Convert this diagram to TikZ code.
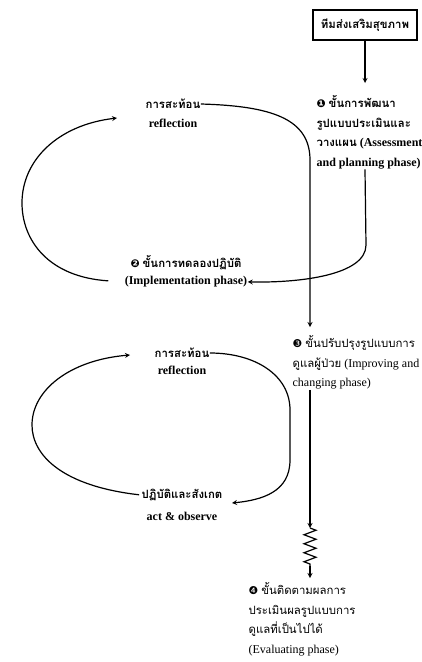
\documentclass[tikz,border=0pt]{standalone}
\usepackage{fontspec}
\setmainfont{Liberation Serif}
\newfontfamily\thaifont[Script=Thai,Scale=0.95]{Loma}
\newfontfamily\dingfont[Scale=0.9]{DejaVu Sans}
\usepackage{tikz}
\usetikzlibrary{positioning,arrows.meta,decorations.pathmorphing}

\newcommand{\tht}[1]{{\thaifont #1}}
\newcommand{\dnum}[1]{{\dingfont #1}}

\begin{document}
\begin{tikzpicture}[->,>=stealth,x=1pt,y=-1pt,line width=1.2pt,
                    phase/.style={align=left,inner sep=0pt,font=\bfseries\fontsize{12}{19.5}\selectfont},
                    light phase/.style={phase,font=\fontsize{12}{19.5}\selectfont},
                    cycle node/.style={inner sep=0pt,font=\bfseries\fontsize{12}{14}\selectfont},
                    team node/.style={draw,line width=1.5pt,minimum width=104pt,minimum height=30pt,
                    font=\bfseries\fontsize{12}{14}\selectfont}]

\useasboundingbox (0,0) rectangle (421,662);

\node[team node] (team) at (365,25) {\tht{ทีมส่งเสริมสุขภาพ}};

\node[phase,anchor=north west] (s1) at (316,95)
    {\dnum{❶} \tht{ขั้นการพัฒนา}\\ \tht{รูปแบบประเมินและ}\\ \tht{วางแผน} (Assessment\\ and planning phase)};

\node[cycle node] (r1) at (173,104) {\tht{การสะท้อน}};
\node[cycle node,below=9pt of r1] (r1e) {reflection};

\node[cycle node] (s2) at (186,263) {\dnum{❷} \tht{ขั้นการทดลองปฏิบัติ}};
\node[cycle node,below=5pt of s2] (s2e) {(Implementation phase)};

\node[light phase,anchor=north west] (s3) at (292,335)
    {\dnum{❸} \tht{ขั้นปรับปรุงรูปแบบการ}\\ \tht{ดูแลผู้ป่วย} (Improving and\\ changing phase)};

\node[cycle node] (r2) at (182,353) {\tht{การสะท้อน}};
\node[cycle node,below=7pt of r2] (r2e) {reflection};

\node[cycle node] (act) at (182,495) {\tht{ปฏิบัติและสังเกต}};
\node[cycle node,below=10pt of act] (acte) {act \& observe};

\node[light phase,anchor=north west] (s4) at (248,582)
    {\dnum{❹} \tht{ขั้นติดตามผลการ}\\ \tht{ประเมินผลรูปแบบการ}\\ \tht{ดูแลที่เป็นไปได้}\\ (Evaluating phase)};

% arrow ends
\coordinate (r1in) at (117,118);
\coordinate (s3in) at (310,327);
\coordinate (r2in) at (130,355);
\coordinate (actin) at (232,503);
\coordinate (z1) at (310,528);
\coordinate (z2) at (310,566);
\coordinate (s4in) at (310,578);

% first cycle
\draw[shorten >=12pt] (team) -- (team |- s1.north);
\draw (r1.east) .. controls (270,106) and (310,118) .. (310,160) -- (s3in);
\draw (team |- s1.south) -- (366,245) .. controls (366,275) and (300,283) .. (s2e.east);
\draw[shorten <=16pt] (s2e.west) .. controls (48,277) and (22,240) .. (22,203)
    .. controls (22,160) and (58,125) .. (r1in);

% second cycle
\draw (r2.east) .. controls (255,353) and (290,375) .. (290,410) -- (290,460)
    .. controls (290,492) and (262,500) .. (actin);
\draw[shorten <=2pt] (act.west) .. controls (62,486) and (32,455) .. (32,425)
    .. controls (32,390) and (70,360) .. (r2in);

% on to step 4
\draw (s3.south -| s3in) -- (z1);
\draw[-,decorate,decoration={zigzag,segment length=9pt,amplitude=6pt}] (z1) -- (z2);
\draw (z2) -- (s4in);

\end{tikzpicture}
\end{document}
